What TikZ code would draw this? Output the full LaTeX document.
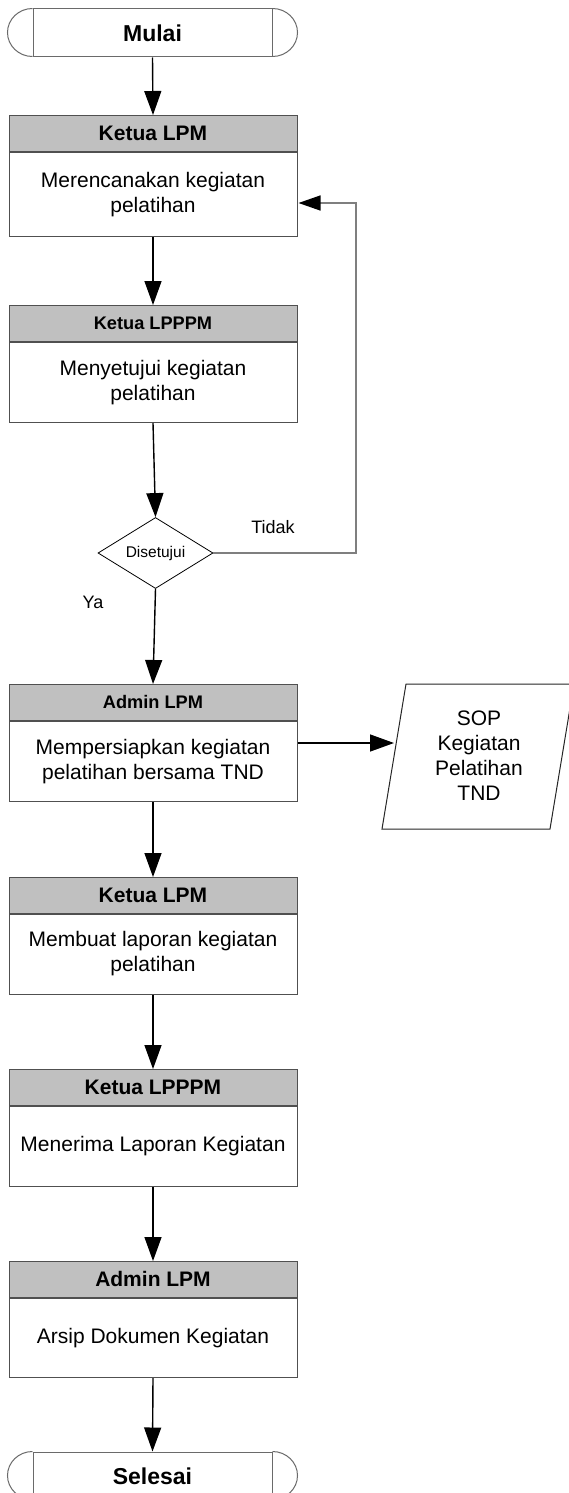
\documentclass[tikz,border=0pt]{standalone}
\usepackage{fontspec}
\setmainfont{Liberation Sans}
\usetikzlibrary{arrows.meta,shapes.geometric,calc}
\definecolor{hdr}{HTML}{C0C0C0}
\definecolor{bord}{HTML}{505050}
\definecolor{termc}{HTML}{6A6A6A}
\definecolor{loopcol}{HTML}{7F7F7F}
\tikzset{
  hdrbox/.style={draw=bord, fill=hdr, line width=1pt, minimum width=288pt, minimum height=35.5pt,
    inner sep=0pt, anchor=north, font=\bfseries\fontsize{21}{25}\selectfont},
  hdrsmall/.style={font=\bfseries\fontsize{18.2}{22}\selectfont},
  bodybox/.style={draw=bord, fill=white, line width=1pt, minimum width=288pt, minimum height=80.5pt,
    inner sep=0pt, anchor=north, align=center, font=\fontsize{21}{25}\selectfont},
  termbox/.style={draw=termc, line width=1pt, minimum width=239pt, minimum height=48pt, inner sep=0pt,
    font=\bfseries\fontsize{23}{27}\selectfont},
  termarc/.style={draw=termc, line width=1pt},
  decision/.style={draw=black, line width=0.8pt, shape=diamond, aspect=1.6, minimum width=115pt,
    minimum height=71pt, inner sep=0pt, font=\fontsize{15.5}{18}\selectfont},
  flow/.style={line width=1.4pt, -{Triangle[length=24pt,width=17pt]}},
  loopflow/.style={draw=loopcol, line width=1.4pt, -{Triangle[length=22pt,width=15pt,color=black]}},
  lbl/.style={font=\fontsize{18}{22}\selectfont, inner sep=0pt},
  sopshape/.style={draw=black!85, line width=1pt},
  soptext/.style={align=center, inner sep=0pt, font=\fontsize{21}{25}\selectfont}
}
\begin{document}
\begin{tikzpicture}[x=1pt,y=-1pt]
\useasboundingbox (0,0) rectangle (569,1493);
\fill[white] (0,0) rectangle (569,1493);
\begin{scope}
\clip (0,0) rectangle (569,1493);

% Start terminator
\node[termbox] (mulai) at (152.5,33) {Mulai};
\draw[termarc] (mulai.north west) arc[start angle=90, end angle=270, x radius=25pt, y radius=24pt];
\draw[termarc] (mulai.north east) arc[start angle=90, end angle=-90, x radius=25pt, y radius=24pt];

% Box 1
\node[hdrbox] (h1) at (153,115) {Ketua LPM};
\node[bodybox, minimum height=84.5pt] (b1) at (h1.south) {Merencanakan kegiatan\\pelatihan};

% Box 2
\node[hdrbox, hdrsmall] (h2) at (153,305) {Ketua LPPPM};
\node[bodybox] (b2) at (h2.south) {Menyetujui kegiatan\\pelatihan};

% Decision
\node[decision] (d) at (155.5,553) {Disetujui};
\node[lbl] (tidak) at (273,527) {Tidak};
\node[lbl] (ya) at (93,602) {Ya};

% Box 3
\node[hdrbox, hdrsmall] (h3) at (153,684) {Admin LPM};
\node[bodybox] (b3) at (h3.south) {Mempersiapkan kegiatan\\pelatihan bersama TND};

% SOP document
\draw[sopshape] (406,684) -- (574,684) -- (550,829) -- (382,829) -- cycle;
\node[soptext] (sop) at (479,755.5) {SOP\\Kegiatan\\Pelatihan\\TND};
\coordinate (sopin) at (394,743);

% Box 4
\node[hdrbox] (h4) at (153,877) {Ketua LPM};
\node[bodybox, minimum height=80pt] (b4) at (h4.south) {Membuat laporan kegiatan\\pelatihan};

% Box 5
\node[hdrbox] (h5) at (153,1069) {Ketua LPPPM};
\node[bodybox] (b5) at (h5.south) {Menerima Laporan Kegiatan};

% Box 6
\node[hdrbox] (h6) at (153,1261) {Admin LPM};
\node[bodybox, minimum height=79.5pt] (b6) at (h6.south) {Arsip Dokumen Kegiatan};

% End terminator
\node[termbox] (selesai) at (152.5,1476) {Selesai};
\draw[termarc] (selesai.north west) arc[start angle=90, end angle=270, x radius=25pt, y radius=24pt];
\draw[termarc] (selesai.north east) arc[start angle=90, end angle=-90, x radius=25pt, y radius=24pt];

% Connectors
\draw[flow] (mulai.south) -- (h1.north);
\draw[flow] (b1.south) -- (h2.north);
\draw[flow] (b2.south) -- (d.north);
\draw[flow] (d.south) -- (h3.north);
\coordinate (loopc) at (356,203);
\draw[loopflow] (d.east) -| (loopc) -- ([xshift=1pt]b1.east |- loopc);
\draw[flow] (b3.east |- sopin) -- (sopin);
\draw[flow] (b3.south) -- (h4.north);
\draw[flow] (b4.south) -- (h5.north);
\draw[flow] (b5.south) -- (h6.north);
\draw[flow] (b6.south) -- (selesai.north);
\end{scope}
\end{tikzpicture}
\end{document}
